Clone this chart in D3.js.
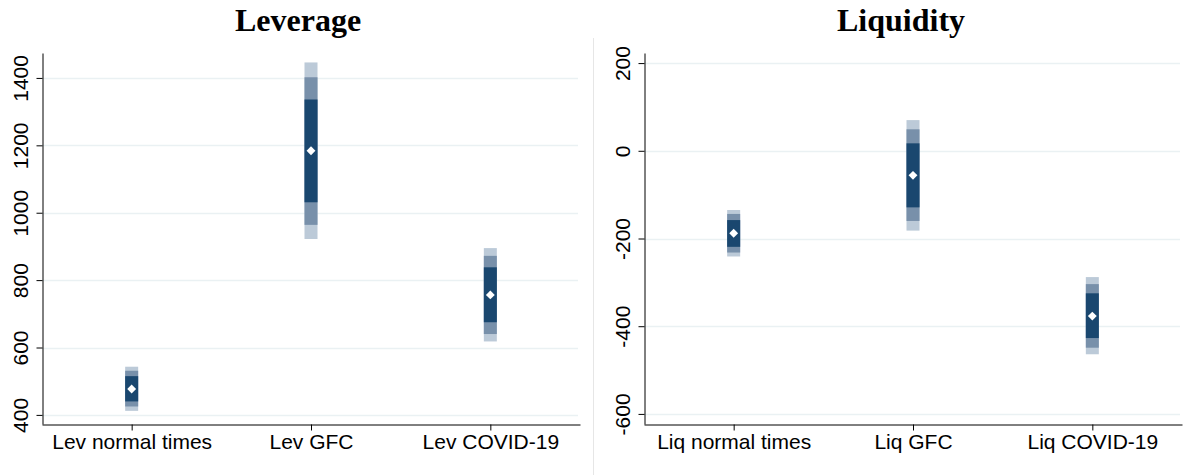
<!DOCTYPE html>
<html>
<head>
<meta charset="utf-8">
<script src="https://cdnjs.cloudflare.com/ajax/libs/d3/7.8.5/d3.min.js"></script>
<style>
  body { margin: 0; background: #fff; }
  svg { display: block; }
</style>
</head>
<body>
<script>
// leverage panel
const levCats = ["Lev normal times", "Lev GFC", "Lev COVID-19"]
const levPoint = [477, 1184, 756]
const levLight = [[412, 543], [922, 1446], [618, 895]]
const levMid = [[425, 531], [964, 1402], [640, 872]]
const levDark = [[440, 515], [1031, 1336], [675, 838]]
const levTicks = [400, 600, 800, 1000, 1200, 1400]

// liquidity panel
const liqCats = ["Liq normal times", "Liq GFC", "Liq COVID-19"]
const liqPoint = [-188, -56, -377]
const liqLight = [[-241, -135], [-182, 70], [-464, -288]]
const liqMid = [[-232, -144], [-160, 49], [-449, -304]]
const liqDark = [[-219, -158], [-129, 17], [-427, -325]]
const liqTicks = [-600, -400, -200, 0, 200]

const w = 1190
const h = 475

const svg = d3.select("body")
  .append("svg")
  .attr("width", w)
  .attr("height", h)

// thin divider between the two graphs
svg.append("line")
  .attr("x1", 593.5).attr("x2", 593.5)
  .attr("y1", 38).attr("y2", h)
  .attr("stroke", "#e6e6e6")
  .attr("stroke-width", 1)

function panel(opts) {
  const g = svg.append("g")

  const xscale = d3.scalePoint()
    .domain(opts.cats)
    .range([opts.left, opts.right])
    .padding(0.5)

  const yscale = d3.scaleLinear()
    .domain(opts.domain)
    .range([424, 53])

  // title (centred on the whole graph region, not the plot)
  g.append("text")
    .attr("x", opts.titleX)
    .attr("y", 31)
    .attr("text-anchor", "middle")
    .style("font-family", "'Liberation Serif', 'Times New Roman', serif")
    .style("font-weight", "bold")
    .style("font-size", "32px")
    .text(opts.title)

  // grid
  g.selectAll(".grid")
    .data(opts.ticks)
    .enter()
    .append("line")
    .attr("class", "grid")
    .attr("x1", opts.left)
    .attr("x2", opts.right - 2)
    .attr("y1", d => Math.round(yscale(d)) + 0.5)
    .attr("y2", d => Math.round(yscale(d)) + 0.5)
    .attr("stroke", "#eaf1f3")
    .attr("stroke-width", 1.5)

  const bw = 13
  const bands = [
    [opts.light, "#bccad8"],
    [opts.mid, "#7890aa"],
    [opts.dark, "#1a476f"]
  ]
  bands.forEach(b => {
    g.selectAll(null)
      .data(b[0])
      .enter()
      .append("rect")
      .attr("x", (d, i) => xscale(opts.cats[i]) - bw / 2)
      .attr("y", d => yscale(d[1]))
      .attr("width", bw)
      .attr("height", d => yscale(d[0]) - yscale(d[1]))
      .attr("fill", b[1])
  })

  // point estimate, white diamond
  g.selectAll(".pt")
    .data(opts.point)
    .enter()
    .append("path")
    .attr("class", "pt")
    .attr("d", d3.symbol().type(d3.symbolDiamond2).size(50))
    .attr("transform", (d, i) => "translate(" + xscale(opts.cats[i]) + "," + yscale(d) + ")")
    .attr("fill", "#fff")

  const yAxis = d3.axisLeft(yscale)
    .tickValues(opts.ticks)
    .tickFormat(d => String(d))
    .tickSize(6)
    .tickSizeOuter(0)
  const ya = g.append("g")
    .attr("transform", "translate(" + (opts.left + 0.5) + ",0)")
    .call(yAxis)
  ya.select(".domain").attr("stroke", "#000")
  ya.selectAll(".tick line").attr("stroke", "#000")
  ya.selectAll(".tick text")
    .attr("x", null).attr("dy", null)
    .attr("transform", "translate(-22,0) rotate(-90)")
    .attr("text-anchor", "middle")
    .attr("dominant-baseline", "central")
    .style("font-family", "'Liberation Sans', Arial, sans-serif")
    .style("font-size", "21px")
    .attr("fill", "#000")

  const xAxis = d3.axisBottom(xscale)
    .tickSize(6)
    .tickSizeOuter(0)
  const xa = g.append("g")
    .attr("transform", "translate(0," + 424.5 + ")")
    .call(xAxis)
  xa.select(".domain").attr("stroke", "#000")
  xa.selectAll(".tick line").attr("stroke", "#000")
  xa.selectAll(".tick text")
    .attr("y", 10)
    .style("font-family", "'Liberation Sans', Arial, sans-serif")
    .style("font-size", "21px")
    .attr("fill", "#000")
}

panel({
  title: "Leverage", titleX: 298, cats: levCats, left: 42, right: 580,
  domain: [373, 1474], ticks: levTicks,
  point: levPoint, light: levLight, mid: levMid, dark: levDark
})

panel({
  title: "Liquidity", titleX: 901, cats: liqCats, left: 644, right: 1182,
  domain: [-623, 223], ticks: liqTicks,
  point: liqPoint, light: liqLight, mid: liqMid, dark: liqDark
})
</script>
</body>
</html>
